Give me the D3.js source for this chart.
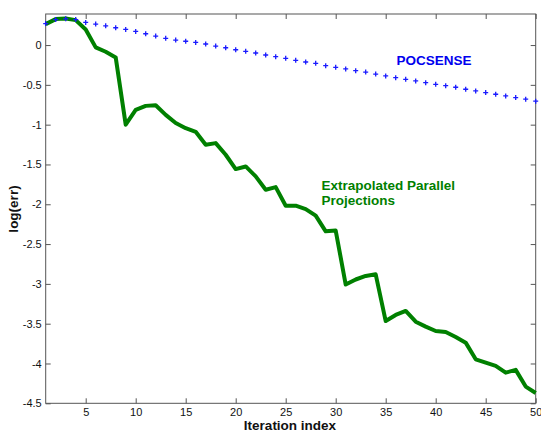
<!DOCTYPE html>
<html><head><meta charset="utf-8">
<script src="https://cdn.jsdelivr.net/npm/d3@7"></script>
<style>body{margin:0;background:#fff;} svg{display:block;font-family:"Liberation Sans",Arial,sans-serif;}</style>
</head><body>
<svg id="c" width="541" height="435"></svg>
<script>
const iterations = d3.range(1, 51);
const pocsense = [0.27,0.32,0.33,0.32,0.284,0.263,0.242,0.217,0.196,0.171,0.142,0.113,0.084,0.063,0.048,0.033,0.013,-0.013,-0.034,-0.059,-0.079,-0.1,-0.125,-0.146,-0.167,-0.192,-0.213,-0.23,-0.259,-0.28,-0.3,-0.322,-0.34,-0.365,-0.388,-0.41,-0.43,-0.451,-0.472,-0.493,-0.51,-0.53,-0.555,-0.576,-0.597,-0.618,-0.639,-0.66,-0.68,-0.705];
const extrapolated = [0.263,0.326,0.334,0.313,0.196,-0.029,-0.084,-0.155,-1.0,-0.815,-0.764,-0.756,-0.877,-0.98,-1.044,-1.09,-1.253,-1.232,-1.378,-1.558,-1.525,-1.65,-1.817,-1.784,-2.018,-2.018,-2.06,-2.143,-2.34,-2.33,-3.008,-2.945,-2.9,-2.88,-3.467,-3.39,-3.34,-3.475,-3.537,-3.592,-3.605,-3.667,-3.738,-3.947,-3.99,-4.03,-4.115,-4.08,-4.29,-4.37];
const xTicks = [5,10,15,20,25,30,35,40,45,50];
const yTicks = [0,-0.5,-1,-1.5,-2,-2.5,-3,-3.5,-4,-4.5];
const yTickLabels = ["0","-0.5","-1","-1.5","-2","-2.5","-3","-3.5","-4","-4.5"];

const svg = d3.select("#c");
const L = 45.7, R = 535.7, T = 14, B = 403.3;
const x = d3.scaleLinear().domain([1, 50]).range([L, R]);
const y = d3.scaleLinear().domain([-4.5, 0.39]).range([B, T]);
const axisColor = "#555";

// box
svg.append("rect").attr("x", L).attr("y", T).attr("width", R - L).attr("height", B - T)
  .attr("fill", "none").attr("stroke", axisColor).attr("stroke-width", 1);

// axes (inward ticks)
const gx = svg.append("g").attr("transform", `translate(0,${B})`)
  .call(d3.axisBottom(x).tickValues(xTicks).tickSizeInner(-5).tickSizeOuter(0).tickPadding(5));
const gxt = svg.append("g").attr("transform", `translate(0,${T})`)
  .call(d3.axisTop(x).tickValues(xTicks).tickSizeInner(-5).tickSizeOuter(0).tickFormat(""));
const gy = svg.append("g").attr("transform", `translate(${L},0)`)
  .call(d3.axisLeft(y).tickValues(yTicks).tickSizeInner(-5).tickSizeOuter(0).tickPadding(4)
    .tickFormat((d, i) => yTickLabels[i]));
const gyr = svg.append("g").attr("transform", `translate(${R},0)`)
  .call(d3.axisRight(y).tickValues(yTicks).tickSizeInner(-5).tickSizeOuter(0).tickFormat(""));
[gx, gxt, gy, gyr].forEach(g => {
  g.select(".domain").remove();
  g.selectAll(".tick line").attr("stroke", axisColor);
  g.selectAll("text").attr("fill", "#111").style("font-size", "11px").style("font-family", "Liberation Sans, Arial, sans-serif");
});

// Extrapolated line
svg.append("path").datum(iterations.map((it, i) => [it, extrapolated[i]]))
  .attr("fill", "none").attr("stroke", "#008000").attr("stroke-width", 4)
  .attr("stroke-linejoin", "round")
  .attr("d", d3.line().x(d => x(d[0])).y(d => y(d[1])));

// POCSENSE plus markers
svg.append("g").selectAll("path").data(iterations.map((it, i) => [it, pocsense[i]]))
  .join("path")
  .attr("d", d => { const cx = x(d[0]), cy = y(d[1]); return `M${cx-2.5},${cy}H${cx+2.5}M${cx},${cy-2.5}V${cy+2.5}`; })
  .attr("stroke", "#1a1aff").attr("stroke-width", 1.3);

// labels
svg.append("text").attr("x", 434).attr("y", 65).attr("text-anchor", "middle")
  .attr("fill", "#0000ee").style("font-weight", "bold").style("font-size", "13.5px").text("POCSENSE");
svg.append("text").attr("x", 321.5).attr("y", 190).attr("fill", "#008000")
  .style("font-weight", "bold").style("font-size", "13.5px").text("Extrapolated Parallel");
svg.append("text").attr("x", 321.5).attr("y", 205).attr("fill", "#008000")
  .style("font-weight", "bold").style("font-size", "13.5px").text("Projections");

svg.append("text").attr("x", 290).attr("y", 430).attr("text-anchor", "middle")
  .attr("fill", "#111").style("font-weight", "bold").style("font-size", "13.5px").text("Iteration index");
svg.append("text").attr("transform", "translate(18,209) rotate(-90)").attr("text-anchor", "middle")
  .attr("fill", "#111").style("font-weight", "bold").style("font-size", "13.5px").text("log(err)");
</script>
</body></html>
